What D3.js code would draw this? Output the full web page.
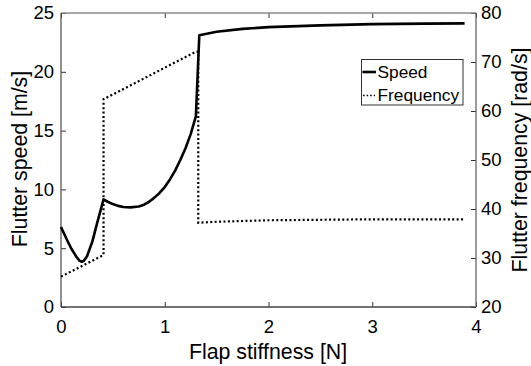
<!DOCTYPE html>
<html>
<head>
<meta charset="utf-8">
<script src="https://cdn.jsdelivr.net/npm/d3@7"></script>
<style>
  body { margin: 0; background: #fff; }
  svg text { font-family: "Liberation Sans", Arial, Helvetica, sans-serif; fill: #000; }
</style>
</head>
<body>
<script>
// data
let speedX = [0, 0.05, 0.1, 0.15, 0.18, 0.2, 0.22, 0.25, 0.3, 0.35, 0.41,
              0.45, 0.5, 0.55, 0.6, 0.67, 0.75, 0.8, 0.85, 0.9, 0.95, 1.0, 1.05, 1.1, 1.15, 1.2, 1.25, 1.3,
              1.333, 1.5, 1.75, 2, 2.5, 3, 3.5, 3.89];
let speed  = [6.8, 5.85, 4.95, 4.25, 3.92, 3.85, 3.93, 4.3, 5.5, 7.2, 9.15,
              8.95, 8.75, 8.6, 8.5, 8.47, 8.55, 8.7, 8.95, 9.3, 9.7, 10.2, 10.85, 11.6, 12.5, 13.5, 14.7, 16.2,
              23.1, 23.4, 23.65, 23.8, 23.95, 24.05, 24.1, 24.12];
let freqX  = [0, 0.41, 0.41, 1.30, 1.323, 1.323, 1.5, 2, 2.5, 3, 3.89];
let freq   = [26.2, 30.6, 62.4, 72.1, 72.1, 37.2, 37.4, 37.7, 37.8, 37.9, 37.9];

let xTicks = [0, 1, 2, 3, 4];
let leftTicks = [0, 5, 10, 15, 20, 25];
let rightTicks = [20, 30, 40, 50, 60, 70, 80];
let legendLabels = ["Speed", "Frequency"];

let width = 531, height = 366;
let margin = {left: 61, top: 13, right: 55, bottom: 59};
let x0 = margin.left, x1 = width - margin.right,
    y0 = height - margin.bottom, y1 = margin.top;

let svg = d3.select("body").append("svg")
    .attr("width", width)
    .attr("height", height);

let x = d3.scaleLinear().domain([0, 4]).range([x0, x1]);
let yL = d3.scaleLinear().domain([0, 25]).range([y0, y1]);
let yR = d3.scaleLinear().domain([20, 80]).range([y0, y1]);

// axes, ticks inward
let tickLen = 5;
function styleAxis(g, color) {
    g.select(".domain").remove();
    g.selectAll(".tick line").attr("stroke", color);
    g.selectAll(".tick text").style("font-size", "18.5px");
}

let gx = svg.append("g").attr("transform", "translate(0," + y0 + ")")
    .call(d3.axisBottom(x).tickValues(xTicks).tickSize(-tickLen).tickPadding(13).tickFormat(d3.format("d")));
styleAxis(gx, "#333");

let gxTop = svg.append("g").attr("transform", "translate(0," + y1 + ")")
    .call(d3.axisTop(x).tickValues(xTicks).tickSize(-tickLen).tickFormat(""));
styleAxis(gxTop, "#333");

let gl = svg.append("g").attr("transform", "translate(" + x0 + ",0)")
    .call(d3.axisLeft(yL).tickValues(leftTicks).tickSize(-tickLen).tickPadding(7));
styleAxis(gl, "#333");

let gr = svg.append("g").attr("transform", "translate(" + x1 + ",0)")
    .call(d3.axisRight(yR).tickValues(rightTicks).tickSize(-tickLen).tickPadding(5));
styleAxis(gr, "#333");

// box
svg.append("line").attr("x1", x0).attr("x2", x1).attr("y1", y1).attr("y2", y1)
    .attr("stroke", "#8a8a8a").attr("stroke-width", 1.3);
svg.append("line").attr("x1", x0).attr("x2", x1).attr("y1", y0).attr("y2", y0)
    .attr("stroke", "#444").attr("stroke-width", 1.3);
svg.append("line").attr("x1", x0).attr("x2", x0).attr("y1", y0).attr("y2", y1)
    .attr("stroke", "#555").attr("stroke-width", 1.3);
svg.append("line").attr("x1", x1).attr("x2", x1).attr("y1", y0).attr("y2", y1)
    .attr("stroke", "#666").attr("stroke-width", 1.3);

// lines
let speedLine = d3.line().x(function(d, i){ return x(speedX[i]); }).y(function(d){ return yL(d); });
let freqLine = d3.line().x(function(d, i){ return x(freqX[i]); }).y(function(d){ return yR(d); });

svg.append("path").datum(freq)
    .attr("d", freqLine)
    .attr("fill", "none").attr("stroke", "#000")
    .attr("stroke-width", 2.2).attr("stroke-dasharray", "2,2.4");

svg.append("path").datum(speed)
    .attr("d", speedLine)
    .attr("fill", "none").attr("stroke", "#000")
    .attr("stroke-width", 2.6).attr("stroke-linejoin", "round");

// labels
svg.append("text").attr("x", 268).attr("y", 359)
    .attr("text-anchor", "middle").style("font-size", "21.3px")
    .text("Flap stiffness [N]");
svg.append("text").attr("transform", "translate(27,159) rotate(-90)")
    .attr("text-anchor", "middle").style("font-size", "21.3px")
    .text("Flutter speed [m/s]");
svg.append("text").attr("transform", "translate(527,160) rotate(-90)")
    .attr("text-anchor", "middle").style("font-size", "21.3px")
    .text("Flutter frequency [rad/s]");

// legend
let lg = svg.append("g");
lg.append("rect").attr("x", 361.5).attr("y", 59.5).attr("width", 101.5).attr("height", 45.5)
    .attr("fill", "#fff").attr("stroke", "#333").attr("stroke-width", 1);
lg.selectAll(".lt").data(legendLabels).enter().append("text")
    .attr("x", 377.5)
    .attr("y", function(d, i){ return 77.5 + i * 23.3; })
    .style("font-size", "17.3px")
    .text(function(d){ return d; });
lg.append("line").attr("x1", 362.5).attr("x2", 376).attr("y1", 72).attr("y2", 72)
    .attr("stroke", "#000").attr("stroke-width", 2.6);
lg.append("line").attr("x1", 363).attr("x2", 375).attr("y1", 95.5).attr("y2", 95.5)
    .attr("stroke", "#000").attr("stroke-width", 1.6).attr("stroke-dasharray", "1.6,2");
</script>
</body>
</html>
